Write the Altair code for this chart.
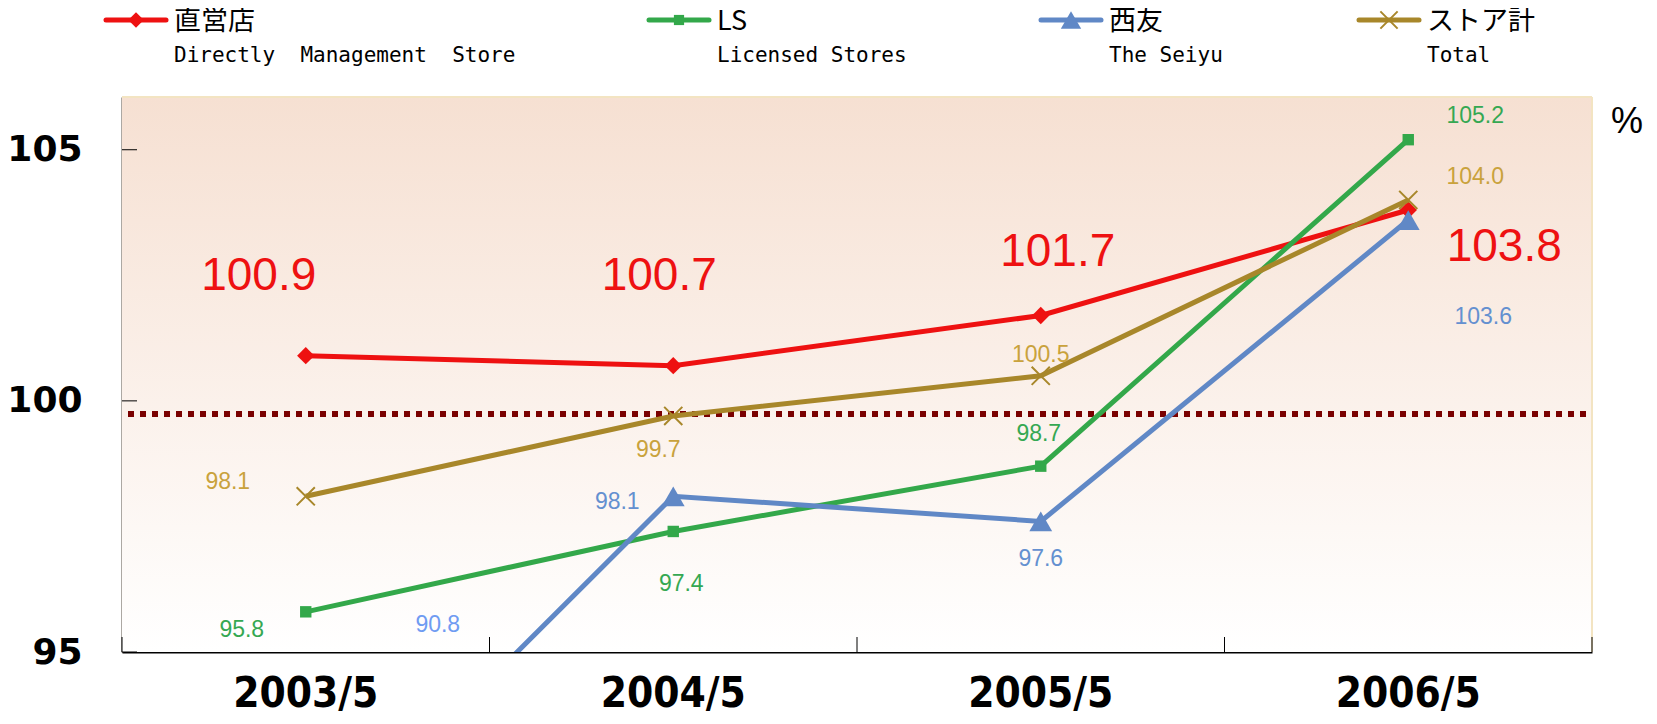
import altair as alt
import pandas as pd

# ---------------- data ----------------
periods = ["2003/5", "2004/5", "2005/5", "2006/5"]
series_jp = ["直営店", "LS", "西友", "ストア計"]
series_en = ["Directly  Management  Store", "Licensed Stores", "The Seiyu", "Total"]
direct_store = [100.9, 100.7, 101.7, 103.8]
licensed_store = [95.8, 97.4, 98.7, 105.2]
seiyu = [90.8, 98.1, 97.6, 103.6]
store_total = [98.1, 99.7, 100.5, 104.0]
y_tick_values = [95, 100, 105]
reference_value = 99.74
unit_label = "%"

# ---------------- style / layout ----------------
W, H = 1470, 555
PAD = {"left": 114, "top": 89, "right": 55, "bottom": 64}
line_colors = ["#EE1111", "#33A84A", "#6088C6", "#A8872A"]
label_colors = ["#EE1111", "#35A852", "#6490D0", "#C9A23C"]
shapes = ["diamond", "square", "triangle-up", "M-1,-1L1,1M-1,1L1,-1"]
sizes = [300, 130, 520, 330]
filled = [True, True, True, False]
label_sizes = [46, 23, 23, 23]
label_offsets = [
    [(-47, -80), (-14, -90), (17, -63), (96, 37)],
    [(-64, 18), (8, 53), (-2, -32), (67, -24)],
    [(132, -238), (-56, 6), (0, 38), (75, 97)],
    [(-78, -14), (-15, 34), (0, -21), (67, -23)],
]
special_label_color = {(2, 0): "#6F9BF2"}
legend_x0 = [-16, 527, 919, 1237]
FONT = "Liberation Sans, Arial, sans-serif"
CJK = "Noto Sans CJK JP, sans-serif"

all_values = [direct_store, licensed_store, seiyu, store_total]

yscale = alt.Scale(domain=[95, 106.05], nice=False, zero=False)
xscale = alt.Scale(type="band", domain=periods, paddingInner=0, paddingOuter=0)

x_axis = alt.Axis(
    title=None, ticks=False, grid=False, domainColor="#000000", domainWidth=2,
    labelFont="DejaVu Sans Condensed, sans-serif",
    labelFontSize=42, labelFontWeight="bold", labelColor="#000000", labelPadding=54,
    labelLimit=800, labelOverlap=False, labelAngle=0, labelAlign="center",
    labelBaseline="alphabetic",
)
y_axis = alt.Axis(
    title=None, ticks=False, grid=False, values=y_tick_values, domainColor="#5a5248",
    domainWidth=2, labelFont="DejaVu Sans", labelFontSize=36, labelFontWeight="bold",
    labelColor="#000000", labelPadding=40,
)


def X(**kw):
    return alt.X("period:N", scale=xscale, axis=x_axis, sort=periods, **kw)


def Y():
    return alt.Y("value:Q", scale=yscale, axis=y_axis)


layers = []

# background gradient
bg = alt.Chart(pd.DataFrame({"a": [0]})).mark_rect(
    fill={
        "gradient": "linear", "x1": 0, "x2": 0, "y1": 0, "y2": 1,
        "stops": [{"offset": 0, "color": "#F6E0D2"}, {"offset": 1, "color": "#FFFFFF"}],
    }
).encode(x=alt.value(0), x2=alt.value(W), y=alt.value(0), y2=alt.value(H))
layers.append(bg)

# light frame on top and right
layers.append(alt.Chart(pd.DataFrame({"a": [0]})).mark_rule(color="#F3E4C2", strokeWidth=2)
              .encode(x=alt.value(0), x2=alt.value(W), y=alt.value(0)))
layers.append(alt.Chart(pd.DataFrame({"a": [0]})).mark_rule(color="#F3E4C2", strokeWidth=2)
              .encode(x=alt.value(W), y=alt.value(0), y2=alt.value(H)))

# reference dotted line
ref_df = pd.DataFrame({"value": [reference_value]})
layers.append(alt.Chart(ref_df).mark_rule(color="#7A0000", strokeWidth=6, strokeDash=[6, 6])
              .encode(y=Y(), x=alt.value(6), x2=alt.value(W - 2)))

# inward ticks
tick_df = pd.DataFrame({"period": periods})
layers.append(alt.Chart(tick_df).mark_rule(color="#000000", strokeWidth=1)
              .encode(x=X(bandPosition=0), y=alt.value(H - 15), y2=alt.value(H)))
layers.append(alt.Chart(pd.DataFrame({"a": [0]})).mark_rule(color="#000000", strokeWidth=1)
              .encode(x=alt.value(W), y=alt.value(H - 15), y2=alt.value(H)))
ytick_df = pd.DataFrame({"value": y_tick_values})
layers.append(alt.Chart(ytick_df).mark_rule(color="#000000", strokeWidth=1)
              .encode(y=Y(), x=alt.value(0), x2=alt.value(15)))

# series lines + markers
for i, vals in enumerate(all_values):
    df = pd.DataFrame({"period": periods, "value": vals})
    layers.append(alt.Chart(df).mark_line(color=line_colors[i], strokeWidth=5, clip=True)
                  .encode(x=X(bandPosition=0.5), y=Y()))
    pt_kw = dict(shape=shapes[i], size=sizes[i], clip=True, opacity=1)
    if filled[i]:
        pt = alt.Chart(df).mark_point(filled=True, color=line_colors[i], strokeWidth=0, **pt_kw)
    else:
        pt = alt.Chart(df).mark_point(filled=False, color=line_colors[i], strokeWidth=2, **pt_kw)
    layers.append(pt.encode(x=X(bandPosition=0.5), y=Y()))

# data labels
for i, vals in enumerate(all_values):
    for j, v in enumerate(vals):
        dx, dy = label_offsets[i][j]
        col = special_label_color.get((i, j), label_colors[i])
        df = pd.DataFrame({"period": [periods[j]], "value": [v], "label": [f"{v:.1f}"]})
        layers.append(alt.Chart(df).mark_text(
            dx=dx, dy=dy, fontSize=label_sizes[i], color=col, font=FONT,
            align="center", baseline="middle",
        ).encode(x=X(bandPosition=0.5), y=Y(), text="label:N"))

# legend
for i in range(4):
    x0 = legend_x0[i]
    one = pd.DataFrame({"jp": [series_jp[i]], "en": [series_en[i].replace(" ", "\u00a0")]})
    layers.append(alt.Chart(one).mark_rule(color=line_colors[i], strokeWidth=5, strokeCap="round")
                  .encode(x=alt.value(x0), x2=alt.value(x0 + 60), y=alt.value(-77)))
    mk = dict(shape=shapes[i], size=sizes[i] * (0.8 if i != 3 else 0.9), opacity=1)
    if filled[i]:
        m = alt.Chart(one).mark_point(filled=True, color=line_colors[i], strokeWidth=0, **mk)
    else:
        m = alt.Chart(one).mark_point(filled=False, color=line_colors[i], strokeWidth=2, **mk)
    layers.append(m.encode(x=alt.value(x0 + 30), y=alt.value(-77)))
    layers.append(alt.Chart(one).mark_text(align="left", baseline="middle", font=CJK,
                                           fontSize=27, color="#000000")
                  .encode(x=alt.value(x0 + 68), y=alt.value(-75), text="jp:N"))
    layers.append(alt.Chart(one).mark_text(align="left", baseline="middle", font="DejaVu Sans Mono",
                                           fontSize=21, color="#000000")
                  .encode(x=alt.value(x0 + 68), y=alt.value(-41), text="en:N"))

# unit label
layers.append(alt.Chart(pd.DataFrame({"u": [unit_label]})).mark_text(
    align="center", baseline="middle", font=FONT, fontSize=36, color="#000000")
    .encode(x=alt.value(W + 35), y=alt.value(25), text="u:N"))

chart = alt.layer(*layers).properties(
    width=W, height=H,
    autosize=alt.AutoSizeParams(type="none"),
    padding=PAD,
).configure_view(stroke=None)

chart.save("out.html", embed_options={"renderer": "svg", "actions": False})
